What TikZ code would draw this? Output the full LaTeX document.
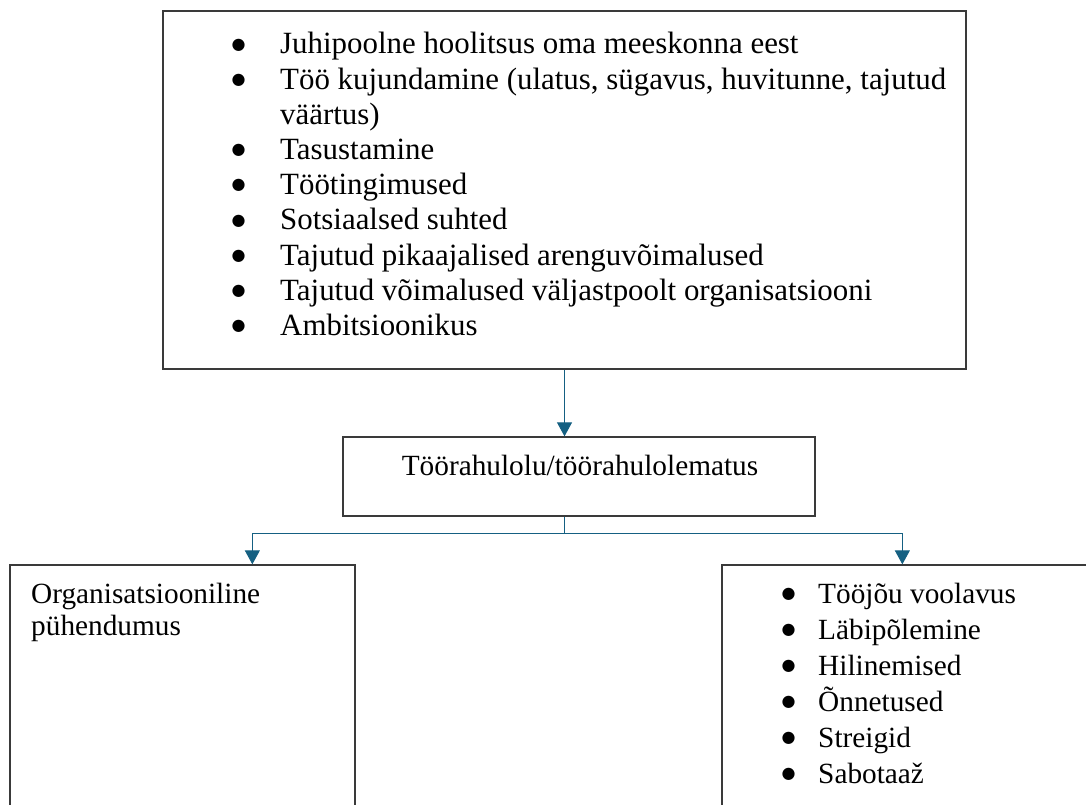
\documentclass[tikz,border=0pt]{standalone}
\usepackage{graphicx}
\usepackage{fontspec}
\setmainfont{Liberation Serif}
\newfontfamily\symfont{DejaVu Sans}
\usetikzlibrary{arrows.meta,calc}
\definecolor{connc}{HTML}{156082}
\definecolor{boxline}{HTML}{3A3A3A}
\newcommand\mybul[1]{\makebox[#1][l]{\hspace{-0.5pt}\raisebox{4.8pt}{\symfont\fontsize{16}{16}\selectfont ●}}}
\newcommand\litem[2]{\par\noindent\hangindent=#1\hangafter=1\mybul{#1}#2}
\tikzset{
  frame/.style={draw=boxline, line width=1.3pt, rectangle, inner sep=0pt},
  connline/.style={draw=connc, line width=1pt},
  arr/.style={connline, -{Triangle[width=15pt,length=14pt]}},
  txt/.style={inner sep=0pt, anchor=base west, font=\fontsize{29.3}{35.2}\selectfont},
}
\begin{document}
\begin{tikzpicture}[x=1pt,y=-1pt]
\useasboundingbox (0,0) rectangle (1086,805);
\clip (0,0) rectangle (1086,805);
% boxes
\node[frame, minimum width=803pt, minimum height=358pt] (top) at (564.5,190) {};
\node[frame, minimum width=472pt, minimum height=79pt] (mid) at (579,476.5) {};
\node[frame, minimum width=345pt, minimum height=265pt] (left) at (182.5,697.5) {};
\node[frame, minimum width=388pt, minimum height=265pt] (right) at (916,697.5) {};
% texts
\node[txt, font=\fontsize{30.9}{35.2}\selectfont] (toplist) at (232,54) {\parbox[t]{714pt}{%
\litem{48pt}{Juhipoolne hoolitsus oma meeskonna eest}
\litem{48pt}{Töö kujundamine (ulatus, sügavus, huvitunne, tajutud\linebreak väärtus)}
\litem{48pt}{Tasustamine}
\litem{48pt}{Töötingimused}
\litem{48pt}{Sotsiaalsed suhted}
\litem{48pt}{Tajutud pikaajalised arenguvõimalused}
\litem{48pt}{Tajutud võimalused väljastpoolt organisatsiooni}
\litem{48pt}{Ambitsioonikus}}};
\node[txt, anchor=base] (midtext) at (580,475) {Töörahulolu/töörahulolematus};
\node[txt, font=\fontsize{29.3}{32}\selectfont] (lefttext) at (31,603) {\parbox[t]{320pt}{Organisatsiooniline\\pühendumus}};
\node[txt, font=\fontsize{29.3}{36}\selectfont] (rightlist) at (782,603) {\parbox[t]{290pt}{%
\litem{36pt}{Tööjõu voolavus}
\litem{36pt}{Läbipõlemine}
\litem{36pt}{Hilinemised}
\litem{36pt}{Õnnetused}
\litem{36pt}{Streigid}
\litem{36pt}{Sabotaaž}}};
% connectors
\coordinate (split) at ($(top.south)+(0,164)$);
\coordinate (lin) at ($(left.north west)+(243,0)$);
\coordinate (rin) at ($(right.north west)+(181,0)$);
\draw[arr] (top.south) -- (top.south |- mid.north);
\draw[connline] (top.south |- mid.south) -- (split);
\draw[arr] (split) -| (lin);
\draw[arr] (split) -| (rin);
\end{tikzpicture}
\end{document}
